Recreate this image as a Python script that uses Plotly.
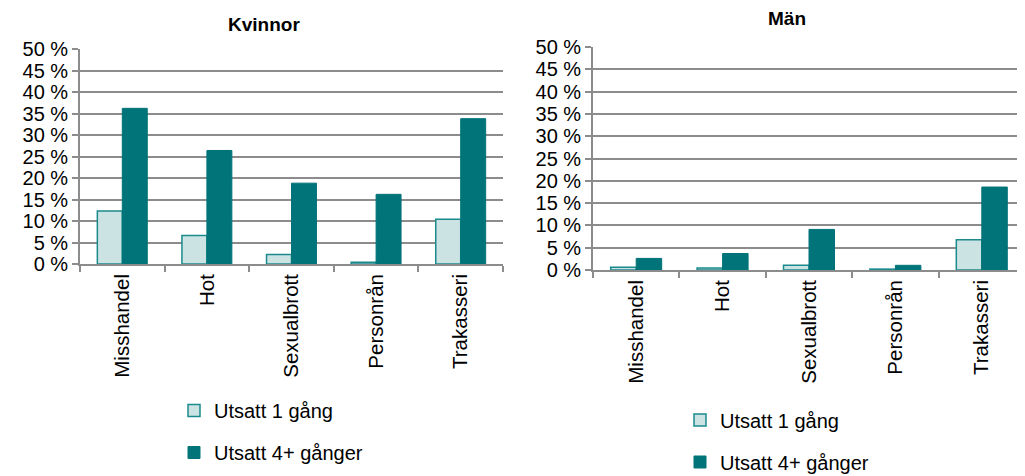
import plotly.graph_objects as go

categories = ["Misshandel", "Hot", "Sexualbrott", "Personrån", "Trakasseri"]
series_names = ["Utsatt 1 gång", "Utsatt 4+ gånger"]

kvinnor_1 = [12.3, 6.6, 2.2, 0.4, 10.4]
kvinnor_4 = [36.2, 26.4, 18.8, 16.2, 33.8]
man_1 = [0.6, 0.45, 1.05, 0.2, 6.8]
man_4 = [2.6, 3.7, 9.1, 1.05, 18.6]

tick_vals = [0, 5, 10, 15, 20, 25, 30, 35, 40, 45, 50]
tick_text = ["0 %", "5 %", "10 %", "15 %", "20 %", "25 %", "30 %", "35 %", "40 %", "45 %", "50 %"]

light = "#cce3e3"
dark = "#007479"
edge = "#1a8a8c"
grid = "#8c8c8c"
font = "Liberation Sans"

W, H = 1017, 486


def px_x(v):
    # target pixel in the screenshot -> paper fraction (page has an 8px body margin)
    return (v - 8) / W


def px_y(v):
    return 1 - (v - 8) / H


fig = go.Figure()

panels = [
    ("x", "y", "legend", kvinnor_1, kvinnor_4),
    ("x2", "y2", "legend2", man_1, man_4),
]
for xa, ya, lg, v1, v4 in panels:
    fig.add_trace(go.Bar(
        x=categories, y=v1, name=series_names[0], xaxis=xa, yaxis=ya,
        marker=dict(color=light, line=dict(color=edge, width=1.5)),
        legend=lg, legendgroup=lg + "a",
    ))
    fig.add_trace(go.Bar(
        x=categories, y=v4, name=series_names[1], xaxis=xa, yaxis=ya,
        marker=dict(color=dark, line=dict(color=dark, width=1)),
        legend=lg, legendgroup=lg + "b",
    ))

xaxis_common = dict(
    automargin=False, showgrid=False, showline=True, linecolor=grid, linewidth=1.7,
    ticks="outside", tickson="boundaries", ticklen=6, tickcolor=grid, tickwidth=1.7,
    tickangle=-90, tickfont=dict(family=font, size=20.5, color="black"),
)
yaxis_common = dict(
    automargin=False, range=[0, 50], tickvals=tick_vals, ticktext=tick_text,
    showgrid=True, gridcolor=grid, gridwidth=1.7,
    showline=True, linecolor=grid, linewidth=1.7,
    ticks="outside", ticklen=6, tickcolor=grid, tickwidth=1.7,
    tickfont=dict(family=font, size=20, color="black"), zeroline=False,
)
legend_common = dict(
    orientation="v", traceorder="grouped", tracegroupgap=13,
    font=dict(family=font, size=20, color="black"),
    bgcolor="rgba(0,0,0,0)", xanchor="left", yanchor="top",
)

fig.update_layout(
    width=W, height=H,
    margin=dict(l=0, r=0, t=0, b=0),
    paper_bgcolor="white", plot_bgcolor="white",
    barmode="group", bargap=0.41, bargroupgap=0,
    xaxis=dict(domain=[px_x(80), px_x(503)], anchor="y", **xaxis_common),
    yaxis=dict(domain=[px_y(264), px_y(49)], anchor="x", **yaxis_common),
    xaxis2=dict(domain=[px_x(593), 1.0], anchor="y2", **xaxis_common),
    yaxis2=dict(domain=[px_y(270), px_y(47)], anchor="x2", **yaxis_common),
    legend=dict(x=px_x(174), y=px_y(391), **legend_common),
    legend2=dict(x=px_x(680), y=px_y(400.5), **legend_common),
    annotations=[
        dict(text="<b>Kvinnor</b>", x=px_x(264), y=px_y(24.5), xref="paper", yref="paper",
             xanchor="center", yanchor="middle", showarrow=False,
             font=dict(family=font, size=19, color="black")),
        dict(text="<b>Män</b>", x=px_x(787), y=px_y(18.5), xref="paper", yref="paper",
             xanchor="center", yanchor="middle", showarrow=False,
             font=dict(family=font, size=19, color="black")),
    ],
)

fig.write_html("out.html")
